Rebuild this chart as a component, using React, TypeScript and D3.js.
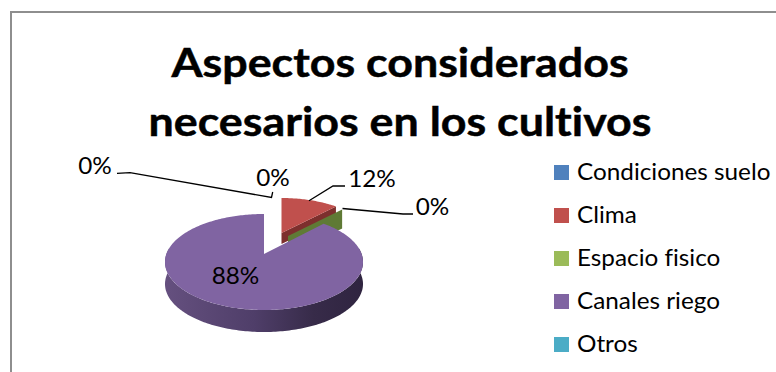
import React from "react";
import * as d3 from "d3";

const categories = ["Condiciones suelo", "Clima", "Espacio fisico", "Canales riego", "Otros"];
const values = [0, 12, 0, 88, 0];
const colors = ["#4f81bd", "#c0504d", "#9bbb59", "#8064a2", "#4bacc6"];
const titleLines = ["Aspectos considerados", "necesarios en los cultivos"];
const FONT = "Lato, Carlito, sans-serif";

// A tilted disc: the hub sits above the middle of the ellipse, as in a perspective view.
type Disc = { cx: number; cy: number; rx: number; ry: number };
const HUB = 0.167;
function onRim(d: Disc, angle: number, r = 1): [number, number] {
  const u = r * Math.sin(angle);
  const v = r * Math.cos(angle);
  const w = 1 + HUB * v;
  return [d.cx + (d.rx * u * Math.sqrt(1 - HUB * HUB)) / w, d.cy - (d.ry * (v + HUB)) / w];
}
function sector(d: Disc, a0: number, a1: number): [number, number][] {
  const n = Math.max(2, Math.ceil((a1 - a0) / 0.02));
  const pts = d3.range(n + 1).map((i) => onRim(d, a0 + ((a1 - a0) * i) / n));
  return [onRim(d, 0, 0), ...pts];
}
const closed = d3.line().curve(d3.curveLinearClosed);
const open = d3.line();

const pie = d3.pie<number>().sort(null).startAngle(0).endAngle(2 * Math.PI);
const arcs = pie(values);

const mainDisc: Disc = { cx: 264, cy: 262, rx: 99, ry: 48 };
const climaDisc: Disc = { cx: 281.5, cy: 240, rx: 90.5, ry: 42 };
const espacioDisc: Disc = { cx: 288, cy: 243, rx: 90, ry: 42 };
const DEPTH = 22;

const legendY = d3.scalePoint<string>().domain(categories).range([172.5, 344.5]);

const leaders: [number, number][][] = [
  [[117, 173.3], [130, 172.7], [271.5, 197.5], [272.7, 192]],
  [[309, 200.7], [333, 186], [345, 186]],
  [[342.5, 208.5], [403, 214], [413, 214]],
];
const dataLabels = [
  { text: "0%", x: 95, y: 174 },
  { text: "0%", x: 273, y: 185.5 },
  { text: "12%", x: 372, y: 186.5 },
  { text: "0%", x: 432.5, y: 215 },
  { text: "88%", x: 235.5, y: 283.5 },
];

// Slightly widened glyphs give the text the proportions of the chart's original typeface.
const ligaturesOff = { fontVariantLigatures: "none" } as const;

export default function App() {
  const canales = arcs[3];
  const clima = arcs[1];
  const espacio = arcs[2];

  // Outer wall of the main slice: the near half of the rim, pushed down.
  const frontRim = sector(mainDisc, Math.PI / 2 - 0.12, (3 * Math.PI) / 2 + 0.12).slice(1);
  const wall = [...frontRim, ...frontRim.map(([x, y]) => [x, y + DEPTH] as [number, number]).reverse()];

  const climaHub = onRim(climaDisc, 0, 0);
  const climaEdge = onRim(climaDisc, clima.endAngle);
  const climaWall: [number, number][] = [climaHub, climaEdge, [climaEdge[0], climaEdge[1] + 11], [climaHub[0], climaHub[1] + 11]];

  const espHub = onRim(espacioDisc, 0, 0);
  const espEdge = onRim(espacioDisc, espacio.endAngle);
  const espWall: [number, number][] = [espHub, espEdge, [espEdge[0], espEdge[1] + 19], [espHub[0], espHub[1] + 19]];

  return (
    <svg width={776} height={372} style={{ position: "absolute", left: 0, top: 0, background: "#fff" }}>
      <defs>
        <linearGradient id="canalesWall" x1="0" x2="1" y1="0" y2="0">
          <stop offset="0" stopColor="#65507f" />
          <stop offset="0.45" stopColor="#4f3e69" />
          <stop offset="0.75" stopColor="#372b49" />
          <stop offset="1" stopColor="#2f2440" />
        </linearGradient>
      </defs>

      <path d="M11 372V12H776" fill="none" stroke="#8e8e8e" strokeWidth={2} />

      {titleLines.map((t, i) => (
        <text
          key={t}
          transform={`translate(400,${77 + i * 58.5}) scale(1.093,1)`}
          textAnchor="middle"
          fontFamily={FONT}
          fontWeight={700}
          fontSize={41}
          fill="#000"
          stroke="#000"
          strokeWidth={0.5}
          style={ligaturesOff}
        >
          {t}
        </text>
      ))}

      <path d={closed(wall) ?? ""} fill="url(#canalesWall)" />
      <path d={closed(climaWall) ?? ""} fill="#7d2f2d" />
      <path d={closed(espWall) ?? ""} fill="#5f7a35" />
      <path d={closed(sector(mainDisc, canales.startAngle, canales.endAngle)) ?? ""} fill={colors[3]} />
      <path d={closed(sector(climaDisc, clima.startAngle, clima.endAngle)) ?? ""} fill={colors[1]} />

      {leaders.map((l, i) => (
        <path key={i} d={open(l) ?? ""} fill="none" stroke="#000" strokeWidth={1.3} />
      ))}
      {dataLabels.map((l, i) => (
        <text
          key={i}
          transform={`translate(${l.x},${l.y}) scale(1.08,1)`}
          textAnchor="middle"
          fontFamily={FONT}
          fontSize={22.5}
          fill="#000"
          style={ligaturesOff}
        >
          {l.text}
        </text>
      ))}

      {categories.map((c, i) => {
        const y = legendY(c) ?? 0;
        return (
          <g key={c}>
            <rect x={554} y={y - 7.5} width={15} height={15} fill={colors[i]} />
            <text
              transform={`translate(577,${y + 7.5}) scale(1.08,1)`}
              fontFamily={FONT}
              fontSize={22.5}
              fill="#000"
              style={ligaturesOff}
            >
              {c}
            </text>
          </g>
        );
      })}
    </svg>
  );
}
